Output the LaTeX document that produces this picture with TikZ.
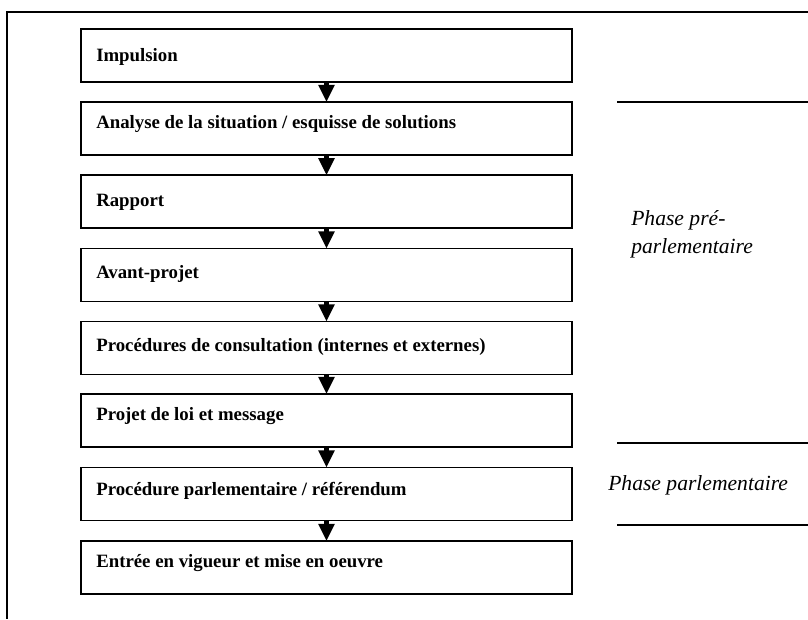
\documentclass[tikz,border=0pt]{standalone}
\usepackage{fontspec}
\setmainfont{Liberation Serif}
\usetikzlibrary{arrows.meta,calc}
\begin{document}
\begin{tikzpicture}[x=0.75pt,y=-0.75pt,
  stagebox/.style={draw,line width=1.1pt,minimum width=368.25pt,minimum height=39.75pt,inner sep=0pt,outer sep=0pt},
  stagetext/.style={anchor=base west,inner sep=0pt,font=\fontsize{14.1pt}{17pt}\selectfont\bfseries},
  phasetext/.style={anchor=base west,inner sep=0pt,font=\fontsize{16.2pt}{19pt}\selectfont\itshape},
  flow/.style={line width=3.3pt,-{Triangle[length=12.8pt,width=11.5pt]}},
  rule/.style={line width=1.1pt}]
\useasboundingbox (0,0) rectangle (808,619);
% outer frame
\coordinate (fa) at (808,12);
\coordinate (fb) at (7,12);
\coordinate (fc) at (7,619);
\draw[line width=1.2pt] (fa) -- (fb) -- (fc);
% boxes
\node[stagebox] (b1) at (326.5,55.5) {};
\node[stagebox] (b2) at (326.5,128.5) {};
\node[stagebox] (b3) at (326.5,201.7) {};
\node[stagebox] (b4) at (326.5,275) {};
\node[stagebox] (b5) at (326.5,348) {};
\node[stagebox] (b6) at (326.5,420.5) {};
\node[stagebox] (b7) at (326.5,494) {};
\node[stagebox] (b8) at (326.5,567.5) {};
% texts
\node[stagetext] (t1) at ($(b1.north west)+(15,32)$) {Impulsion};
\node[stagetext] (t2) at ($(b2.north west)+(15,26)$) {Analyse de la situation / esquisse de solutions};
\node[stagetext] (t3) at ($(b3.north west)+(15,31)$) {Rapport};
\node[stagetext] (t4) at ($(b4.north west)+(15,30)$) {Avant-projet};
\node[stagetext] (t5) at ($(b5.north west)+(15,30)$) {Procédures de consultation (internes et externes)};
\node[stagetext] (t6) at ($(b6.north west)+(15,26)$) {Projet de loi et message};
\node[stagetext] (t7) at ($(b7.north west)+(15,28)$) {Procédure parlementaire / référendum};
\node[stagetext] (t8) at ($(b8.north west)+(15,26)$) {Entrée en vigueur et mise en oeuvre};
% arrows
\draw[flow] (b1.south) -- (b2.north);
\draw[flow] (b2.south) -- (b3.north);
\draw[flow] (b3.south) -- (b4.north);
\draw[flow] (b4.south) -- (b5.north);
\draw[flow] (b5.south) -- (b6.north);
\draw[flow] (b6.south) -- (b7.north);
\draw[flow] (b7.south) -- (b8.north);
% phase separators
\coordinate (r1a) at (617,102); \coordinate (r1b) at (808,102);
\coordinate (r2a) at (617,443); \coordinate (r2b) at (808,443);
\coordinate (r3a) at (617,525); \coordinate (r3b) at (808,525);
\draw[rule] (r1a) -- (r1b);
\draw[rule] (r2a) -- (r2b);
\draw[rule] (r3a) -- (r3b);
% phase labels
\node[phasetext] (p1) at (631,225) {Phase pré-};
\node[phasetext] (p2) at (631,253) {parlementaire};
\node[phasetext] (p3) at (608,490) {Phase parlementaire};
\end{tikzpicture}
\end{document}
